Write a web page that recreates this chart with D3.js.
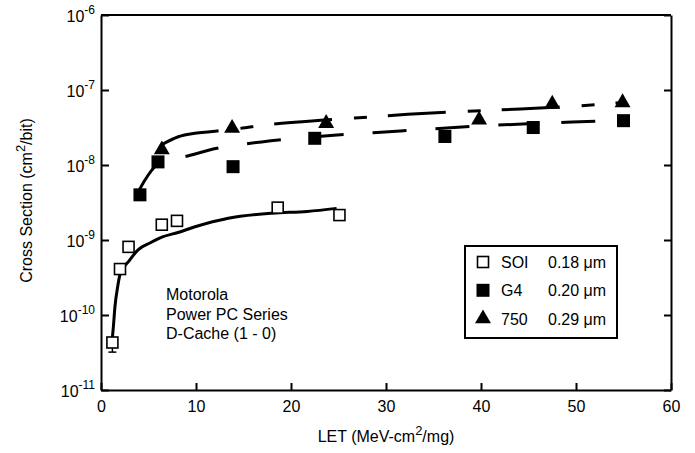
<!DOCTYPE html>
<html>
<head>
<meta charset="utf-8">
<title>cross section vs LET</title>
<script src="https://cdn.jsdelivr.net/npm/d3@7"></script>
<style>
  body { margin: 0; background: #fff; }
  svg { display: block; font-family: "Liberation Sans", Arial, sans-serif; }
  .axis path, .axis line { fill: none; stroke: #000; stroke-width: 2; }
  .axis text { font-size: 16px; fill: #000; }
</style>
</head>
<body>
<script>
// measured points
var soiLet = [1.2, 2.0, 2.9, 6.4, 8.0, 18.6, 25.1];
var soiSigma = [4.3e-11, 4.1e-10, 8.1e-10, 1.6e-9, 1.8e-9, 2.7e-9, 2.15e-9];
var soiErrLow = [3.2e-11, null, null, null, null, null, null];

var g4Let = [4.1, 6.0, 13.9, 22.5, 36.2, 45.5, 55.0];
var g4Sigma = [4.0e-9, 1.1e-8, 9.5e-9, 2.27e-8, 2.4e-8, 3.16e-8, 3.9e-8];

var p750Let = [6.4, 13.8, 23.7, 39.8, 47.5, 54.9];
var p750Sigma = [1.6e-8, 3.1e-8, 3.6e-8, 4.0e-8, 6.5e-8, 6.8e-8];

// fitted curves
var soiFitLet = [1.15, 1.3, 1.47, 1.76, 2.05, 2.87, 3.9, 5.2, 6.4, 8.1, 9.9, 13.4, 18.0, 21.7, 24.8];
var soiFitSigma = [4.3e-11, 6.9e-11, 1.29e-10, 2.4e-10, 3.7e-10, 5.1e-10, 7.4e-10, 9.2e-10, 1.09e-9, 1.26e-9, 1.5e-9, 1.95e-9, 2.28e-9, 2.4e-9, 2.64e-9];

var g4FitLet = [3.93, 4.63, 5.37, 6.03, 8.84, 12.2, 16.9, 23.5, 31.5, 39.9, 49.6, 54.8];
var g4FitSigma = [4.4e-9, 6.3e-9, 8.6e-9, 1.05e-8, 1.29e-8, 1.67e-8, 2.03e-8, 2.44e-8, 2.84e-8, 3.31e-8, 3.74e-8, 3.94e-8];

var p750FitLet = [6.5, 8.14, 9.89, 11.47, 14.6, 17.3, 23.6, 26.7, 32.3, 38.6, 44.2, 50.6, 54.6];
var p750FitSigma = [1.9e-8, 2.38e-8, 2.65e-8, 2.78e-8, 3.07e-8, 3.41e-8, 3.98e-8, 4.23e-8, 4.74e-8, 5.21e-8, 5.58e-8, 6.18e-8, 6.77e-8];

var xTicks = [0, 10, 20, 30, 40, 50, 60];
var yTicks = [1e-11, 1e-10, 1e-9, 1e-8, 1e-7, 1e-6];
var yExponents = ["-11", "-10", "-9", "-8", "-7", "-6"];

var legendNames = ["SOI", "G4", "750"];
var legendSizes = ["0.18 \u03bcm", "0.20 \u03bcm", "0.29 \u03bcm"];
var noteLines = ["Motorola", "Power PC Series", "D-Cache (1 - 0)"];

var w = 695, h = 453;
var mLeft = 101, mRight = 671, mTop = 15, mBottom = 390;

var x = d3.scaleLinear().domain([0, 60]).range([mLeft, mRight]);
var y = d3.scaleLog().domain([1e-11, 1e-6]).range([mBottom, mTop]);

var svg = d3.select("body").append("svg")
  .attr("width", w).attr("height", h);

function zip(a, b) { return a.map(function(v, i) { return [v, b[i]]; }); }

// axes
svg.append("g").attr("class", "axis")
  .attr("transform", "translate(0," + mBottom + ")")
  .call(d3.axisBottom(x).tickValues(xTicks).tickSizeInner(-7).tickSizeOuter(0).tickPadding(11));

var yAxis = svg.append("g").attr("class", "axis")
  .attr("transform", "translate(" + mLeft + ",0)")
  .call(d3.axisLeft(y).tickValues(yTicks).tickSizeInner(-8).tickSizeOuter(0).tickFormat(""));

yAxis.selectAll(".tick").each(function(d, i) {
  var t = d3.select(this).append("text")
    .attr("x", -6).attr("y", 6)
    .attr("text-anchor", "end");
  t.append("tspan").text("10");
  t.append("tspan").attr("dy", -8).attr("font-size", 12).text(yExponents[i]);
});

svg.append("g").attr("class", "axis")
  .attr("transform", "translate(" + mRight + ",0)")
  .call(d3.axisRight(y).tickValues(yTicks).tickSizeInner(-7).tickSizeOuter(0).tickFormat(""));

svg.append("line")
  .attr("x1", mLeft).attr("x2", mRight).attr("y1", mTop).attr("y2", mTop)
  .attr("stroke", "#000").attr("stroke-width", 2);

// axis titles
var xt = svg.append("text")
  .attr("x", (mLeft + mRight) / 2).attr("y", 442)
  .attr("text-anchor", "middle").attr("font-size", 16);
xt.append("tspan").text("LET (MeV-cm");
xt.append("tspan").attr("dy", -7).attr("font-size", 13).text("2");
xt.append("tspan").attr("dy", 7).text("/mg)");

var yt = svg.append("text")
  .attr("transform", "translate(32," + ((mTop + mBottom) / 2 - 2) + ") rotate(-90)")
  .attr("text-anchor", "middle").attr("font-size", 16);
yt.append("tspan").text("Cross Section (cm");
yt.append("tspan").attr("dy", -7).attr("font-size", 13).text("2");
yt.append("tspan").attr("dy", 7).text("/bit)");

// fit lines
var line = d3.line()
  .x(function(d) { return x(d[0]); })
  .y(function(d) { return y(d[1]); })
  .curve(d3.curveMonotoneX);

svg.append("path").datum(zip(soiFitLet, soiFitSigma))
  .attr("d", line).attr("fill", "none").attr("stroke", "#000").attr("stroke-width", 3);

svg.append("path").datum(zip(g4FitLet, g4FitSigma))
  .attr("d", line).attr("fill", "none").attr("stroke", "#000").attr("stroke-width", 3)
  .attr("stroke-dasharray", "34,29");

svg.append("path").datum(zip(p750FitLet, p750FitSigma))
  .attr("d", line).attr("fill", "none").attr("stroke", "#000").attr("stroke-width", 3)
  .attr("stroke-dasharray", "58,22,13,21");

// error bar on first SOI point
var soi = zip(soiLet, soiSigma);
soi.forEach(function(d, i) {
  var lo = soiErrLow[i];
  if (lo == null) return;
  svg.append("line").attr("x1", x(d[0])).attr("x2", x(d[0]))
    .attr("y1", y(d[1])).attr("y2", y(lo)).attr("stroke", "#000").attr("stroke-width", 1.5);
  svg.append("line").attr("x1", x(d[0]) - 4).attr("x2", x(d[0]) + 4)
    .attr("y1", y(lo)).attr("y2", y(lo)).attr("stroke", "#000").attr("stroke-width", 1.5);
});

// markers
svg.append("g").selectAll("rect")
  .data(soi).enter().append("rect")
  .attr("x", function(d) { return x(d[0]) - 5.5; })
  .attr("y", function(d) { return y(d[1]) - 5.5; })
  .attr("width", 11).attr("height", 11)
  .attr("fill", "#fff").attr("stroke", "#000").attr("stroke-width", 1.6);

svg.append("g").selectAll("rect")
  .data(zip(g4Let, g4Sigma)).enter().append("rect")
  .attr("x", function(d) { return x(d[0]) - 6.5; })
  .attr("y", function(d) { return y(d[1]) - 6.5; })
  .attr("width", 13).attr("height", 13)
  .attr("fill", "#000");

var tri = d3.symbol().type(d3.symbolTriangle).size(110);
svg.append("g").selectAll("path")
  .data(zip(p750Let, p750Sigma)).enter().append("path")
  .attr("d", tri)
  .attr("transform", function(d) { return "translate(" + x(d[0]) + "," + y(d[1]) + ")"; })
  .attr("fill", "#000");

// note
svg.append("g").selectAll("text")
  .data(noteLines).enter().append("text")
  .attr("x", 166).attr("y", function(d, i) { return 300 + i * 19.5; })
  .attr("font-size", 16).text(function(d) { return d; });

// legend
var lg = svg.append("g");
lg.append("rect").attr("x", 465).attr("y", 246).attr("width", 152).attr("height", 92)
  .attr("fill", "#fff").attr("stroke", "#000").attr("stroke-width", 2);
var rows = lg.selectAll("g.row").data(legendNames).enter().append("g")
  .attr("class", "row")
  .attr("transform", function(d, i) { return "translate(483," + (262 + i * 28.3) + ")"; });
rows.each(function(d, i) {
  var g = d3.select(this);
  if (i === 0) {
    g.append("rect").attr("x", -5.5).attr("y", -5.5).attr("width", 11).attr("height", 11)
      .attr("fill", "#fff").attr("stroke", "#000").attr("stroke-width", 1.6);
  } else if (i === 1) {
    g.append("rect").attr("x", -6.5).attr("y", -6.5).attr("width", 13).attr("height", 13).attr("fill", "#000");
  } else {
    g.append("path").attr("d", tri).attr("fill", "#000");
  }
  g.append("text").attr("x", 18).attr("y", 6).attr("font-size", 16).text(d);
  g.append("text").attr("x", 65).attr("y", 6).attr("font-size", 16).text(legendSizes[i]);
});
</script>
</body>
</html>
